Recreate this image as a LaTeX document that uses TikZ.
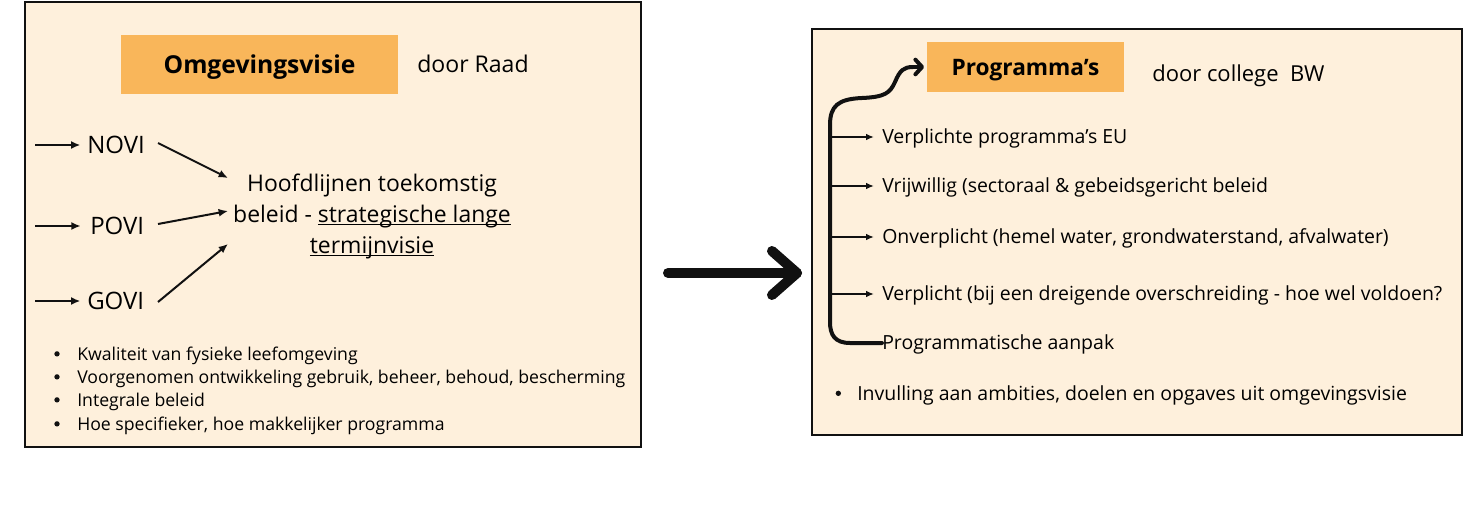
\documentclass[tikz,border=0pt]{standalone}
\usepackage{fontspec}
\setmainfont{Open Sans}
\usetikzlibrary{arrows.meta,calc}
\definecolor{cream}{HTML}{FEF0DC}
\definecolor{orng}{HTML}{F9B65A}
\definecolor{ink}{HTML}{111111}
\newcommand{\myul}[1]{\setbox0\hbox{#1}\rlap{\rule[-2.6pt]{\wd0}{1pt}}\box0}
\begin{document}
\begin{tikzpicture}[x=0.75pt,y=-0.75pt,
  panel/.style={draw=ink,line width=1.6pt,fill=cream},
  titlebox/.style={fill=orng,inner sep=0pt,text depth=0pt,font=\bfseries\fontsize{17pt}{20pt}\selectfont},
  by/.style={anchor=base west,inner sep=0pt,font=\fontsize{16.5pt}{20pt}\selectfont},
  vi/.style={anchor=base west,inner sep=0pt,font=\fontsize{18pt}{22pt}\selectfont},
  main/.style={align=center,inner sep=0pt,font=\fontsize{17.2pt}{23.25pt}\selectfont},
  bul/.style={anchor=base west,inner sep=0pt,font=\fontsize{13.25pt}{15pt}\selectfont},
  item/.style={anchor=base west,inner sep=0pt,font=\fontsize{14.6pt}{16pt}\selectfont},
  dot/.style={circle,fill=ink,inner sep=0pt,minimum size=4pt},
  thin/.style={draw=ink,line width=1.5pt,-{Latex[length=7pt,width=6pt]}},
  bracket/.style={draw=ink,line width=3pt,line cap=round,line join=round},
  big/.style={draw=ink,line width=7.5pt,line cap=round,line join=round}]
\useasboundingbox (0,0) rectangle (1464,528);
\fill[white] (0,0) rectangle (1464,528);
% left panel
\path[panel] (25,2) rectangle (641,447);
\node[titlebox,font=\bfseries\fontsize{18.5pt}{20pt}\selectfont,minimum width=207.75pt,minimum height=44.25pt] (omg) at (259.5,64.5) {Omgevingsvisie};
\node[by,font=\fontsize{17.3pt}{20pt}\selectfont] (raad) at (417,73) {door Raad};
\node[vi] (novi) at (87,153) {NOVI};
\node[vi] (povi) at (90,234) {POVI};
\node[vi] (govi) at (87,309) {GOVI};
\coordinate (ns) at (35,145); \coordinate (ps) at (35,226); \coordinate (gs) at (35,301);
\draw[thin] (ns) -- ([xshift=-5pt]novi.west |- ns);
\draw[thin] (ps) -- ([xshift=-7pt]povi.west |- ps);
\draw[thin] (gs) -- ([xshift=-5pt]govi.west |- gs);
\node[main] (hoofd) at (372,216) {Hoofdlijnen toekomstig\\beleid - \myul{strategische lange}\\\myul{termijnvisie}};
\coordinate (h1) at (228,178); \coordinate (h2) at (228,211); \coordinate (h3) at (228,244);
\draw[thin] (158,143) -- (h1);
\draw[thin] (158,224) -- (h2);
\draw[thin] (158,302) -- (h3);
\node[bul] (b1) at (77,360) {Kwaliteit van fysieke leefomgeving};
\node[bul] (b2) at (77,383) {Voorgenomen ontwikkeling gebruik, beheer, behoud, bescherming};
\node[bul] (b3) at (77,406) {Integrale beleid};
\node[bul] (b4) at (77,430) {Hoe specifieker, hoe makkelijker programma};
\foreach \b in {b1,b2,b3,b4} \node[dot] at ([xshift=-15pt,yshift=4.6pt]\b.base west) {};
% big arrow
\coordinate (ba) at (668,273); \coordinate (bb) at (797,273);
\draw[big] (ba) -- (bb);
\draw[big] ($(bb)+(-25,-22)$) -- (bb) -- ($(bb)+(-25,22)$);
% right panel
\path[panel] (812,29) rectangle (1462,435);
\node[titlebox,minimum width=147.75pt,minimum height=37.5pt] (prog) at (1025.5,67) {Programma’s};
\node[by] (bw) at (1152,82) {door college\ \ BW};
\node[item] (i1) at (882,143) {Verplichte programma’s EU};
\node[item] (i2) at (882,192) {Vrijwillig (sectoraal \& gebeidsgericht beleid};
\node[item] (i3) at (882,243) {Onverplicht (hemel water, grondwaterstand, afvalwater)};
\node[item] (i4) at (882,300) {Verplicht (bij een dreigende overschreiding - hoe wel voldoen?};
\node[item] (i5) at (882,349) {Programmatische aanpak};
\node[item] (i6) at (857,400) {Invulling aan ambities, doelen en opgaves uit omgevingsvisie};
\node[dot] at ([xshift=-14pt,yshift=5pt]i6.base west) {};
\foreach \i/\y in {i1/137,i2/186,i3/237,i4/294} \draw[thin,line width=1.2pt,-{Latex[length=6pt,width=5pt]}] (830,\y) -- ([xshift=-6pt]\i.west |- 830,\y);
\draw[bracket] (i5.west |- 830,343) -- (850,343) .. controls (835,343) and (830,335) .. (830,322) -- (830,125)
  .. controls (830,106) and (838,99) .. (862,98) .. controls (885,97) and (890,93) .. (895,82)
  .. controls (900,70) and (904,67) .. (913,67);
\draw[bracket,-{Straight Barb[length=5pt,width=11pt,round]}] (912,67) -- ([xshift=-2pt]prog.west);
\end{tikzpicture}
\end{document}
